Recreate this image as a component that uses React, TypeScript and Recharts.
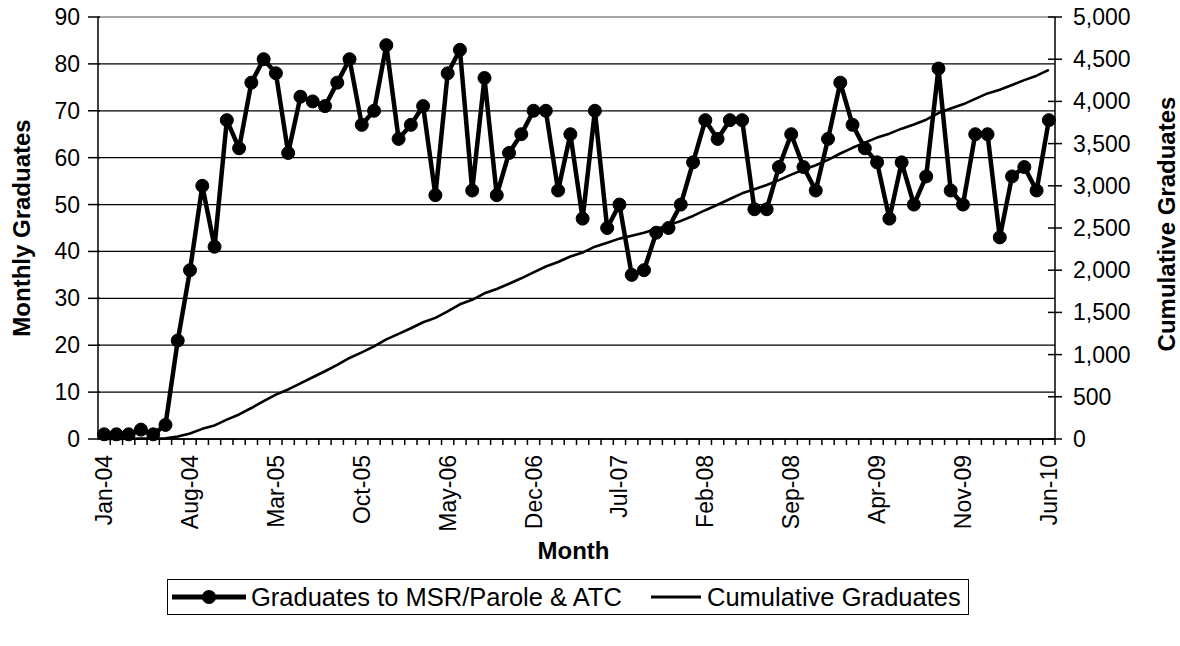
import React from 'react';
import { ComposedChart, Line, XAxis, YAxis, CartesianGrid, Legend, Label } from 'recharts';

const months = [
  'Jan-04', 'Feb-04', 'Mar-04', 'Apr-04', 'May-04', 'Jun-04', 'Jul-04', 'Aug-04', 'Sep-04', 'Oct-04', 'Nov-04', 'Dec-04',
  'Jan-05', 'Feb-05', 'Mar-05', 'Apr-05', 'May-05', 'Jun-05', 'Jul-05', 'Aug-05', 'Sep-05', 'Oct-05', 'Nov-05', 'Dec-05',
  'Jan-06', 'Feb-06', 'Mar-06', 'Apr-06', 'May-06', 'Jun-06', 'Jul-06', 'Aug-06', 'Sep-06', 'Oct-06', 'Nov-06', 'Dec-06',
  'Jan-07', 'Feb-07', 'Mar-07', 'Apr-07', 'May-07', 'Jun-07', 'Jul-07', 'Aug-07', 'Sep-07', 'Oct-07', 'Nov-07', 'Dec-07',
  'Jan-08', 'Feb-08', 'Mar-08', 'Apr-08', 'May-08', 'Jun-08', 'Jul-08', 'Aug-08', 'Sep-08', 'Oct-08', 'Nov-08', 'Dec-08',
  'Jan-09', 'Feb-09', 'Mar-09', 'Apr-09', 'May-09', 'Jun-09', 'Jul-09', 'Aug-09', 'Sep-09', 'Oct-09', 'Nov-09', 'Dec-09',
  'Jan-10', 'Feb-10', 'Mar-10', 'Apr-10', 'May-10', 'Jun-10',
];

// Graduates to MSR/Parole & ATC, per month
const monthlyGraduates = [
  1, 1, 1, 2, 1, 3, 21, 36, 54, 41, 68, 62,
  76, 81, 78, 61, 73, 72, 71, 76, 81, 67, 70, 84,
  64, 67, 71, 52, 78, 83, 53, 77, 52, 61, 65, 70,
  70, 53, 65, 47, 70, 45, 50, 35, 36, 44, 45, 50,
  59, 68, 64, 68, 68, 49, 49, 58, 65, 58, 53, 64,
  76, 67, 62, 59, 47, 59, 50, 56, 79, 53, 50, 65,
  65, 43, 56, 58, 53, 68,
];

// Cumulative Graduates
const cumulativeGraduates = [
  1, 2, 3, 5, 6, 9, 30, 66, 120, 161, 229, 291,
  367, 448, 526, 587, 660, 732, 803, 879, 960, 1027, 1097, 1181,
  1245, 1312, 1383, 1435, 1513, 1596, 1649, 1726, 1778, 1839, 1904, 1974,
  2044, 2097, 2162, 2209, 2279, 2324, 2374, 2409, 2445, 2489, 2534, 2584,
  2643, 2711, 2775, 2843, 2911, 2960, 3009, 3067, 3132, 3190, 3243, 3307,
  3383, 3450, 3512, 3571, 3618, 3677, 3727, 3783, 3862, 3915, 3965, 4030,
  4095, 4138, 4194, 4252, 4305, 4373,
];

const leftTicks = [0, 10, 20, 30, 40, 50, 60, 70, 80, 90];
const rightTicks = [0, 500, 1000, 1500, 2000, 2500, 3000, 3500, 4000, 4500, 5000];

const FONT = '"Liberation Sans", Arial, sans-serif';
const FS = 23;
const TITLE_FS = 24;
const W = 1180;
const H = 646;
const TOP = 17;
const LEFT_W = 98;
const RIGHT_W = 125;
const X_H = 207;
const BAND = (W - LEFT_W - RIGHT_W) / months.length;

const data = months.map((m, i) => ({
  month: m,
  monthly: monthlyGraduates[i],
  cumulative: cumulativeGraduates[i],
}));

const MonthTick = (props: any) => {
  const { x, y, payload, index } = props;
  const ty = y + 16;
  return (
    <g>
      <line x1={x + BAND / 2} x2={x + BAND / 2} y1={y} y2={y + 6} stroke="#000" strokeWidth={1.5} />
      {index % 7 === 0 && (
        <text
          x={x}
          y={ty}
          transform={`rotate(-90, ${x}, ${ty})`}
          textAnchor="end"
          dominantBaseline="central"
          fontFamily={FONT}
          fontSize={FS}
          fill="#000"
        >
          {payload.value}
        </text>
      )}
    </g>
  );
};

const LeftTick = (props: any) => {
  const { x, y, payload } = props;
  return (
    <g>
      <line x1={x - 10} x2={x + 2} y1={y} y2={y} stroke="#000" strokeWidth={1.5} />
      <text x={x - 18} y={y} textAnchor="end" dominantBaseline="central" fontFamily={FONT} fontSize={FS} fill="#000">
        {payload.value}
      </text>
    </g>
  );
};

const RightTick = (props: any) => {
  const { x, y, payload } = props;
  return (
    <g>
      <line x1={x - 7} x2={x + 7} y1={y} y2={y} stroke="#000" strokeWidth={1.5} />
      <text x={x + 18} y={y} textAnchor="start" dominantBaseline="central" fontFamily={FONT} fontSize={FS} fill="#000">
        {payload.value.toLocaleString('en-US')}
      </text>
    </g>
  );
};

const gridLine = (p: any) => (
  <line
    key={p.key}
    x1={p.x1}
    x2={p.x2}
    y1={p.y1}
    y2={p.y2}
    stroke={p.y1 < TOP + 1 ? '#888' : '#000'}
    strokeWidth={1.3}
  />
);

const legendText: React.CSSProperties = {
  position: 'absolute',
  top: 0,
  height: '100%',
  display: 'flex',
  alignItems: 'center',
  whiteSpace: 'nowrap',
};

const LegendBox = () => (
  <div
    style={{
      position: 'relative',
      width: 802,
      height: 36,
      border: '1.5px solid #000',
      boxSizing: 'border-box',
      fontFamily: FONT,
      fontSize: 25.5,
      color: '#000',
      background: '#fff',
    }}
  >
    <svg width={76} height={20} style={{ position: 'absolute', left: 4, top: 7 }}>
      <line x1={0} x2={74} y1={10} y2={10} stroke="#000" strokeWidth={5} />
      <circle cx={37} cy={10} r={7} fill="#000" />
    </svg>
    <span style={{ ...legendText, left: 83 }}>Graduates to MSR/Parole &amp; ATC</span>
    <svg width={52} height={20} style={{ position: 'absolute', left: 483, top: 7 }}>
      <line x1={0} x2={50} y1={10} y2={10} stroke="#000" strokeWidth={3} />
    </svg>
    <span style={{ ...legendText, left: 539 }}>Cumulative Graduates</span>
  </div>
);

const LeftTitle = (props: any) => {
  const { x, y, height } = props.viewBox;
  const cx = x + 21;
  const cy = y + height / 2;
  return (
    <text x={cx} y={cy} transform={`rotate(-90, ${cx}, ${cy})`} textAnchor="middle" dominantBaseline="central"
      fontFamily={FONT} fontSize={TITLE_FS} fontWeight="bold" fill="#000">
      Monthly Graduates
    </text>
  );
};

const RightTitle = (props: any) => {
  const { x, y, height } = props.viewBox;
  const cx = x + 111;
  const cy = y + height / 2 - 4;
  return (
    <text x={cx} y={cy} transform={`rotate(-90, ${cx}, ${cy})`} textAnchor="middle" dominantBaseline="central"
      fontFamily={FONT} fontSize={TITLE_FS} fontWeight="bold" fill="#000">
      Cumulative Graduates
    </text>
  );
};

const MonthTitle = (props: any) => {
  const { x, y, width } = props.viewBox;
  return (
    <text x={x + width / 2 - 3} y={y + 111} textAnchor="middle" dominantBaseline="central"
      fontFamily={FONT} fontSize={TITLE_FS} fontWeight="bold" fill="#000">
      Month
    </text>
  );
};

export default function App() {
  return (
    <div style={{ position: 'absolute', left: 0, top: 0, background: '#fff' }}>
      <ComposedChart width={W} height={H} data={data} margin={{ top: TOP, right: 0, bottom: 0, left: 0 }}>
        <CartesianGrid yAxisId="left" vertical={false} horizontal={gridLine} />
        <XAxis
          dataKey="month"
          scale="band"
          interval={0}
          height={X_H}
          tick={<MonthTick />}
          tickLine={false}
          tickSize={0}
          tickMargin={0}
          axisLine={{ stroke: '#000', strokeWidth: 1.5 }}
        >
          <Label content={<MonthTitle />} />
        </XAxis>
        <YAxis
          yAxisId="left"
          domain={[0, 90]}
          ticks={leftTicks}
          width={LEFT_W}
          tick={<LeftTick />}
          tickLine={false}
          tickSize={0}
          tickMargin={0}
          axisLine={{ stroke: '#000', strokeWidth: 1.5 }}
        >
          <Label content={<LeftTitle />} />
        </YAxis>
        <YAxis
          yAxisId="right"
          orientation="right"
          domain={[0, 5000]}
          ticks={rightTicks}
          width={RIGHT_W}
          tick={<RightTick />}
          tickLine={false}
          tickSize={0}
          tickMargin={0}
          axisLine={{ stroke: '#000', strokeWidth: 1.5 }}
        >
          <Label content={<RightTitle />} />
        </YAxis>
        <Line
          yAxisId="right"
          type="linear"
          dataKey="cumulative"
          name="Cumulative Graduates"
          stroke="#000"
          strokeWidth={2.6}
          strokeLinejoin="round"
          dot={false}
          activeDot={false}
          isAnimationActive={false}
        />
        <Line
          yAxisId="left"
          type="linear"
          dataKey="monthly"
          name="Graduates to MSR/Parole & ATC"
          stroke="#000"
          strokeWidth={4.5}
          strokeLinejoin="round"
          dot={{ r: 6.5, fill: '#000', stroke: '#000', strokeWidth: 1 }}
          activeDot={false}
          isAnimationActive={false}
        />
        <Legend
          content={<LegendBox />}
          layout="vertical"
          align="center"
          verticalAlign="middle"
          wrapperStyle={{ left: 167, top: 579, width: 802 }}
        />
      </ComposedChart>
    </div>
  );
}
